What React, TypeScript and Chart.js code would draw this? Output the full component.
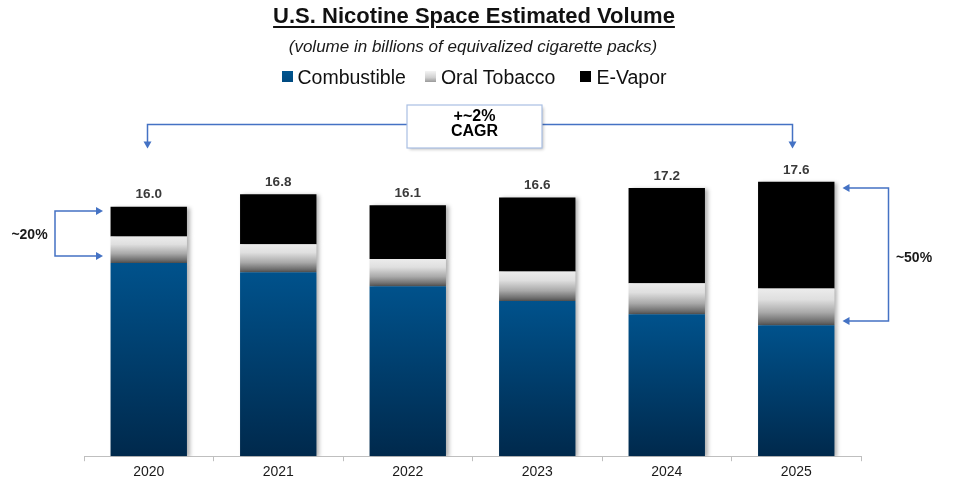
import React, { useEffect, useRef } from "react";
import { Chart, registerables } from "chart.js";

Chart.register(...registerables);

// ---- data ----
const categories = ["2020", "2021", "2022", "2023", "2024", "2025"];
const combustible = [12.4, 11.8, 10.9, 9.95, 9.1, 8.4];
const oralTobacco = [1.7, 1.8, 1.75, 1.9, 2.0, 2.35];
const eVapor = [1.9, 3.2, 3.45, 4.75, 6.1, 6.85];
const totals = [16.0, 16.8, 16.1, 16.6, 17.2, 17.6];
const seriesNames = ["Combustible", "Oral Tobacco", "E-Vapor"];
const titleText = "U.S. Nicotine Space Estimated Volume";
const subtitleText = "(volume in billions of equivalized cigarette packs)";
const cagrLines = ["+~2%", "CAGR"];
const leftNote = "~20%";
const rightNote = "~50%";

const FONT = "'Liberation Sans', Arial, Helvetica, sans-serif";
const ARROW = "#4472c4";

const COMB_STOPS: [number, string][] = [
  [0, "#00528c"],
  [1, "#00294c"],
];
const ORAL_STOPS: [number, string][] = [
  [0, "#ececec"],
  [0.3, "#dfdfdf"],
  [0.65, "#a9a9a9"],
  [1, "#555555"],
];

const series = [combustible, oralTobacco, eVapor];
const stackBase = (k: number, i: number) =>
  series.slice(0, k).reduce((s, a) => s + a[i], 0);

const makeBg = (k: number, stops: [number, string][], fallback: string) => (c: any) => {
  const chart = c.chart;
  const y = chart.scales && chart.scales.y;
  if (c.type !== "data" || !y || !chart.chartArea) return fallback;
  const i = c.dataIndex;
  const lo = stackBase(k, i);
  const hi = lo + series[k][i];
  const y0 = y.getPixelForValue(lo);
  const y1 = y.getPixelForValue(hi);
  if (!isFinite(y0) || !isFinite(y1) || y0 === y1) return fallback;
  const g = chart.ctx.createLinearGradient(0, y1, 0, y0);
  stops.forEach(([o, col]) => g.addColorStop(o, col));
  return g;
};

const shadowPlugin = {
  id: "barShadow",
  beforeDatasetsDraw(chart: any) {
    const c = chart.ctx;
    c.save();
    c.shadowColor = "rgba(0,0,0,0.3)";
    c.shadowBlur = 4;
    c.shadowOffsetX = 3;
    c.shadowOffsetY = 1;
  },
  afterDatasetsDraw(chart: any) {
    chart.ctx.restore();
  },
};

const totalsPlugin = {
  id: "totals",
  afterDraw(chart: any) {
    const c = chart.ctx;
    const y = chart.scales.y;
    const meta = chart.getDatasetMeta(0);
    c.save();
    c.font = `bold 13.5px ${FONT}`;
    c.fillStyle = "#3a3a3a";
    c.textAlign = "center";
    c.textBaseline = "middle";
    totals.forEach((t, i) => {
      const el = meta.data[i];
      const top = y.getPixelForValue(stackBase(3, i));
      c.fillText(t.toFixed(1), el.x, top - 12);
    });
    c.restore();
  },
};

function arrowHead(c: CanvasRenderingContext2D, x: number, y: number, dir: "down" | "right" | "left") {
  const L = 7, W = 4;
  c.beginPath();
  if (dir === "down") {
    c.moveTo(x, y);
    c.lineTo(x - W, y - L);
    c.lineTo(x + W, y - L);
  } else if (dir === "right") {
    c.moveTo(x, y);
    c.lineTo(x - L, y - W);
    c.lineTo(x - L, y + W);
  } else {
    c.moveTo(x, y);
    c.lineTo(x + L, y - W);
    c.lineTo(x + L, y + W);
  }
  c.closePath();
  c.fill();
}

const annotationPlugin = {
  id: "annotations",
  afterDraw(chart: any) {
    const c: CanvasRenderingContext2D = chart.ctx;
    c.save();
    c.strokeStyle = ARROW;
    c.fillStyle = ARROW;
    c.lineWidth = 1.5;

    // CAGR bracket
    c.beginPath();
    c.moveTo(147.5, 142);
    c.lineTo(147.5, 124.5);
    c.lineTo(407, 124.5);
    c.moveTo(542, 124.5);
    c.lineTo(792.5, 124.5);
    c.lineTo(792.5, 142);
    c.stroke();
    arrowHead(c, 147.5, 148.5, "down");
    arrowHead(c, 792.5, 148.5, "down");

    // CAGR box
    c.save();
    c.shadowColor = "rgba(0,0,0,0.25)";
    c.shadowBlur = 3;
    c.shadowOffsetX = 1.5;
    c.shadowOffsetY = 1.5;
    c.fillStyle = "#ffffff";
    c.fillRect(407, 105, 135, 43);
    c.restore();
    c.strokeStyle = "#a9bfe3";
    c.lineWidth = 1.2;
    c.strokeRect(407, 105, 135, 43);

    c.fillStyle = "#000";
    c.font = `bold 16px ${FONT}`;
    c.textAlign = "center";
    c.textBaseline = "middle";
    c.fillText(cagrLines[0], 474.5, 117);
    c.fillText(cagrLines[1], 474.5, 131.5);

    // left bracket (~20%)
    c.strokeStyle = ARROW;
    c.fillStyle = ARROW;
    c.lineWidth = 1.5;
    c.beginPath();
    c.moveTo(96, 211);
    c.lineTo(55, 211);
    c.lineTo(55, 256);
    c.lineTo(96, 256);
    c.stroke();
    arrowHead(c, 103, 211, "right");
    arrowHead(c, 103, 256, "right");

    // right bracket (~50%)
    c.beginPath();
    c.moveTo(849, 188);
    c.lineTo(888.5, 188);
    c.lineTo(888.5, 321);
    c.lineTo(849, 321);
    c.stroke();
    arrowHead(c, 842.5, 188, "left");
    arrowHead(c, 842.5, 321, "left");

    c.fillStyle = "#1a1a1a";
    c.font = `bold 14px ${FONT}`;
    c.textAlign = "center";
    c.textBaseline = "middle";
    c.fillText(leftNote, 29.5, 235);
    c.fillText(rightNote, 914, 258);
    c.restore();
  },
};

const legendSwatches = [
  "linear-gradient(#00558f, #004a80)",
  "linear-gradient(#f4f4f4, #cfcfcf 60%, #9a9a9a)",
  "#000000",
];
const legendGaps = [19, 25, 0];

export default function App() {
  const ref = useRef<HTMLCanvasElement | null>(null);

  useEffect(() => {
    if (!ref.current) return;
    const chart = new Chart(ref.current, {
      type: "bar",
      data: {
        labels: categories,
        datasets: [
          {
            label: seriesNames[0],
            data: combustible,
            backgroundColor: makeBg(0, COMB_STOPS, "#00508a"),
            stack: "s",
            categoryPercentage: 1,
            barPercentage: 0.59,
          },
          {
            label: seriesNames[1],
            data: oralTobacco,
            backgroundColor: makeBg(1, ORAL_STOPS, "#cccccc"),
            stack: "s",
            categoryPercentage: 1,
            barPercentage: 0.59,
          },
          {
            label: seriesNames[2],
            data: eVapor,
            backgroundColor: "#000000",
            stack: "s",
            categoryPercentage: 1,
            barPercentage: 0.59,
          },
        ],
      },
      options: {
        responsive: false,
        animation: false,
        events: [],
        layout: { padding: { top: 160, left: 84, right: 119, bottom: 0 } },
        plugins: {
          legend: { display: false },
          title: { display: false },
          tooltip: { enabled: false },
        },
        scales: {
          x: {
            stacked: true,
            grid: {
              display: true,
              drawOnChartArea: false,
              drawTicks: true,
              tickLength: 5,
              color: "#bfbfbf",
              offset: true,
            },
            border: { display: true, color: "#bfbfbf", width: 1 },
            ticks: { color: "#1a1a1a", font: { family: FONT, size: 14 }, padding: 3 },
          },
          y: { stacked: true, display: false, min: 0, max: 19 },
        },
      },
      plugins: [shadowPlugin, totalsPlugin, annotationPlugin],
    } as any);
    return () => chart.destroy();
  }, []);

  return (
    <div
      style={{
        position: "absolute",
        left: 0,
        top: 0,
        width: 980,
        height: 484,
        background: "#ffffff",
        fontFamily: FONT,
        overflow: "hidden",
      }}
    >
      <canvas
        ref={ref}
        width={980}
        height={484}
        style={{ position: "absolute", left: 0, top: 0, width: 980, height: 484, display: "block" }}
      />
      <div
        style={{
          position: "absolute",
          left: 0,
          width: 948,
          top: 3,
          lineHeight: "26px",
          textAlign: "center",
          fontWeight: "bold",
          fontSize: 22,
          color: "#111",
          textDecoration: "underline",
          textDecorationThickness: 2,
          textUnderlineOffset: 3,
          whiteSpace: "nowrap",
        }}
      >
        {titleText}
      </div>
      <div
        style={{
          position: "absolute",
          left: 0,
          width: 946,
          top: 36.5,
          lineHeight: "20px",
          textAlign: "center",
          fontStyle: "italic",
          fontSize: 17,
          color: "#1a1a1a",
          whiteSpace: "nowrap",
        }}
      >
        {subtitleText}
      </div>
      <div
        style={{
          position: "absolute",
          left: 281.5,
          top: 66.5,
          height: 20,
          display: "flex",
          alignItems: "center",
          fontSize: 19.5,
          lineHeight: "20px",
          color: "#111",
          whiteSpace: "nowrap",
        }}
      >
        {seriesNames.map((n, i) => (
          <div key={n} style={{ display: "flex", alignItems: "center", marginRight: legendGaps[i] }}>
            <span
              style={{
                display: "inline-block",
                width: 11,
                height: 11,
                background: legendSwatches[i],
                marginRight: 5,
              }}
            />
            <span>{n}</span>
          </div>
        ))}
      </div>
    </div>
  );
}
